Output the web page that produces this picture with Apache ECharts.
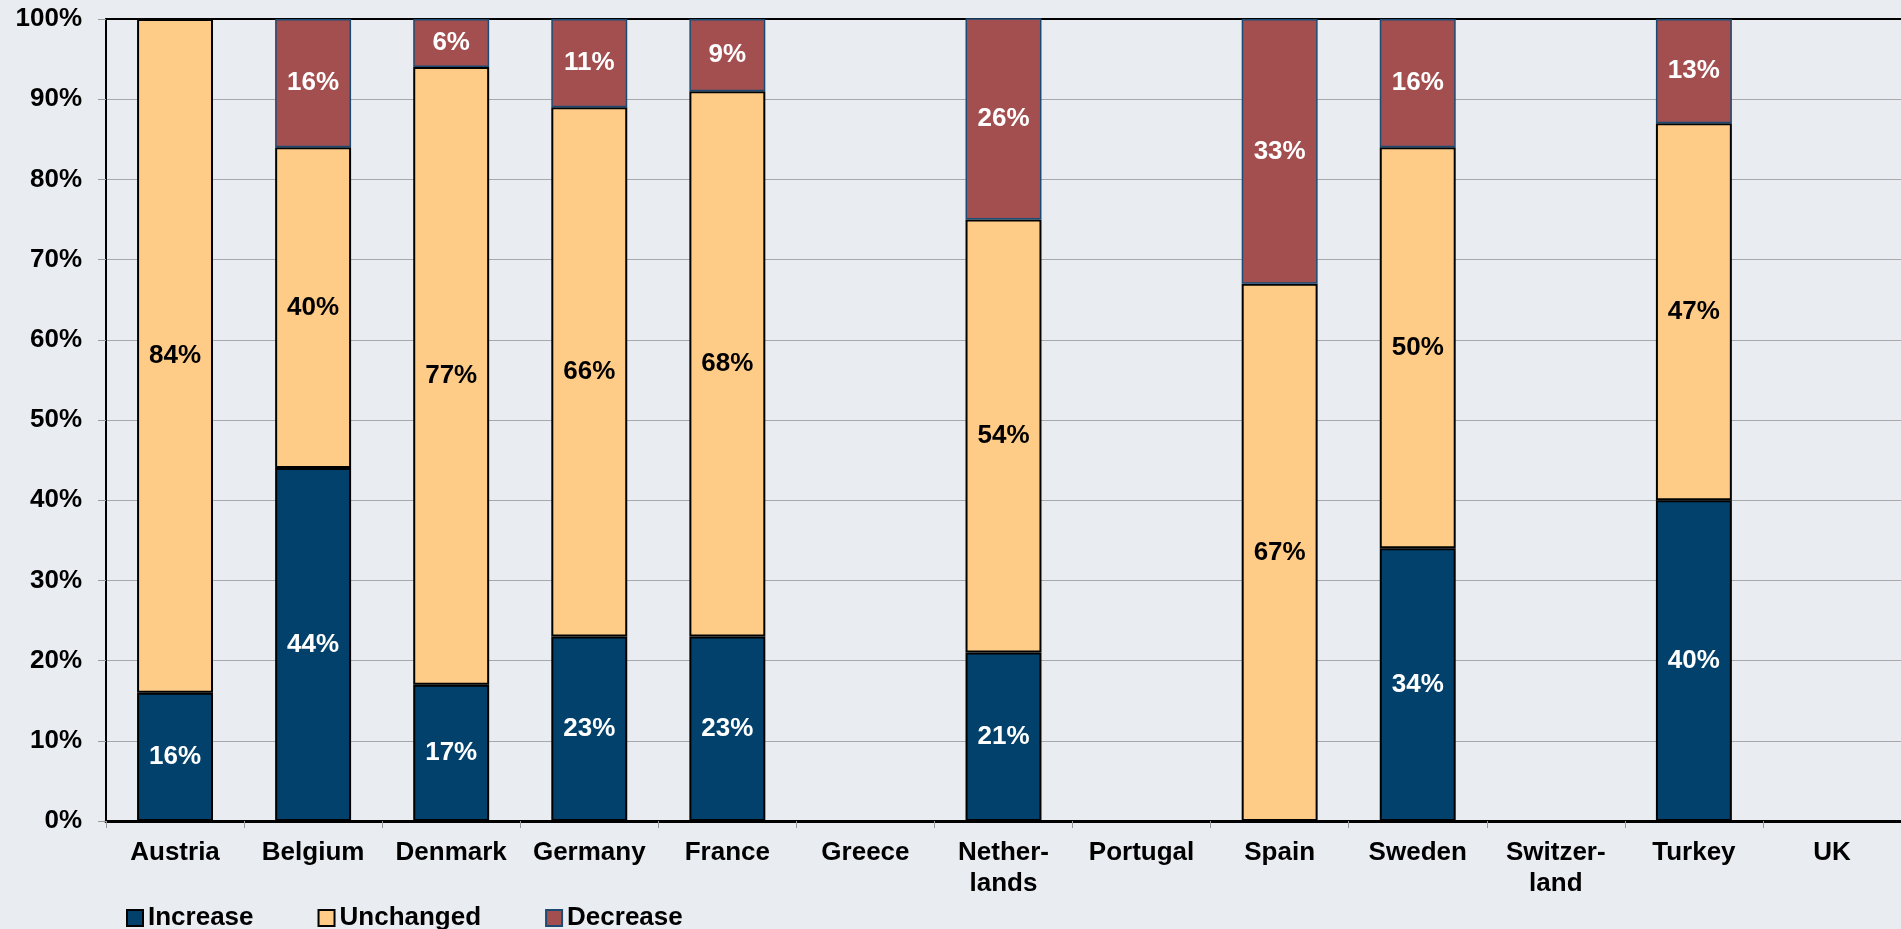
<!DOCTYPE html>
<html>
<head>
<meta charset="utf-8">
<title>Change by country</title>
<script src="https://cdn.jsdelivr.net/npm/echarts@6/dist/echarts.min.js"></script>
<style>
  html, body { margin: 0; padding: 0; background: #E9EDF1; }
  #chart { width: 1901px; height: 929px; }
</style>
</head>
<body>
<div id="chart"></div>
<script>
// Countries along the x axis (line breaks as printed)
const countries = ['Austria', 'Belgium', 'Denmark', 'Germany', 'France', 'Greece',
  'Nether-\nlands', 'Portugal', 'Spain', 'Sweden', 'Switzer-\nland', 'Turkey', 'UK'];

// Shares in percent; null where no answer is shown
const increase  = [16, 44, 17, 23, 23, null, 21, null, null, 34, null, 40, null];
const unchanged = [84, 40, 77, 66, 68, null, 54, null, 67, 50, null, 47, null];
const decrease  = [null, 16, 6, 11, 9, null, 26, null, 33, 16, null, 13, null];

const yTicks = [0, 10, 20, 30, 40, 50, 60, 70, 80, 90, 100];

const FONT = '"Liberation Sans", Arial, sans-serif';

const chart = echarts.init(document.getElementById('chart'));

function barSeries(name, data, color, border, borderWidth, labelColor) {
  return {
    name: name,
    type: 'bar',
    stack: 'share',
    data: data,
    barWidth: '55%',
    itemStyle: { color: color, borderColor: border, borderWidth: borderWidth },
    label: {
      show: true,
      position: 'inside',
      formatter: p => (p.value == null ? '' : p.value + '%'),
      color: labelColor,
      fontFamily: FONT,
      fontWeight: 'bold',
      fontSize: 26
    }
  };
}

chart.setOption({
  backgroundColor: '#E9EDF1',
  animation: false,
  textStyle: { fontFamily: FONT },
  grid: { left: 106, top: 19, width: 1796, height: 802, containLabel: false },
  legend: {
    left: 121,
    top: 900,
    itemWidth: 16,
    itemHeight: 16,
    itemGap: 64,
    icon: 'rect',
    textStyle: { fontFamily: FONT, fontWeight: 'bold', fontSize: 26, color: '#000' },
    data: ['Increase', 'Unchanged', 'Decrease']
  },
  xAxis: [{
    type: 'category',
    data: countries,
    boundaryGap: true,
    axisLine: { show: true, lineStyle: { color: '#000', width: 3 } },
    axisTick: { show: true, length: 7, alignWithLabel: false, lineStyle: { color: '#999', width: 1 } },
    axisLabel: {
      interval: 0,
      margin: 16,
      color: '#000',
      fontFamily: FONT,
      fontWeight: 'bold',
      fontSize: 26,
      lineHeight: 31
    },
    splitLine: { show: false }
  }, {
    type: 'category',
    position: 'top',
    data: countries,
    axisLine: { show: true, lineStyle: { color: '#000', width: 2 } },
    axisTick: { show: false },
    axisLabel: { show: false }
  }],
  yAxis: {
    type: 'value',
    min: 0,
    max: 100,
    interval: 10,
    axisLine: { show: true, lineStyle: { color: '#000', width: 2 } },
    axisTick: { show: true, length: 8, lineStyle: { color: '#999', width: 1 } },
    axisLabel: {
      margin: 24,
      color: '#000',
      fontFamily: FONT,
      fontWeight: 'bold',
      fontSize: 26,
      formatter: v => (yTicks.indexOf(v) >= 0 ? v + '%' : '')
    },
    splitLine: { show: true, lineStyle: { color: '#A6A8AB', width: 1 } }
  },
  series: [
    barSeries('Increase', increase, '#01416B', '#000', 2, '#fff'),
    barSeries('Unchanged', unchanged, '#FFCC88', '#000', 2, '#000'),
    barSeries('Decrease', decrease, '#A34F50', '#1B4A72', 1.5, '#fff')
  ]
});
</script>
</body>
</html>
